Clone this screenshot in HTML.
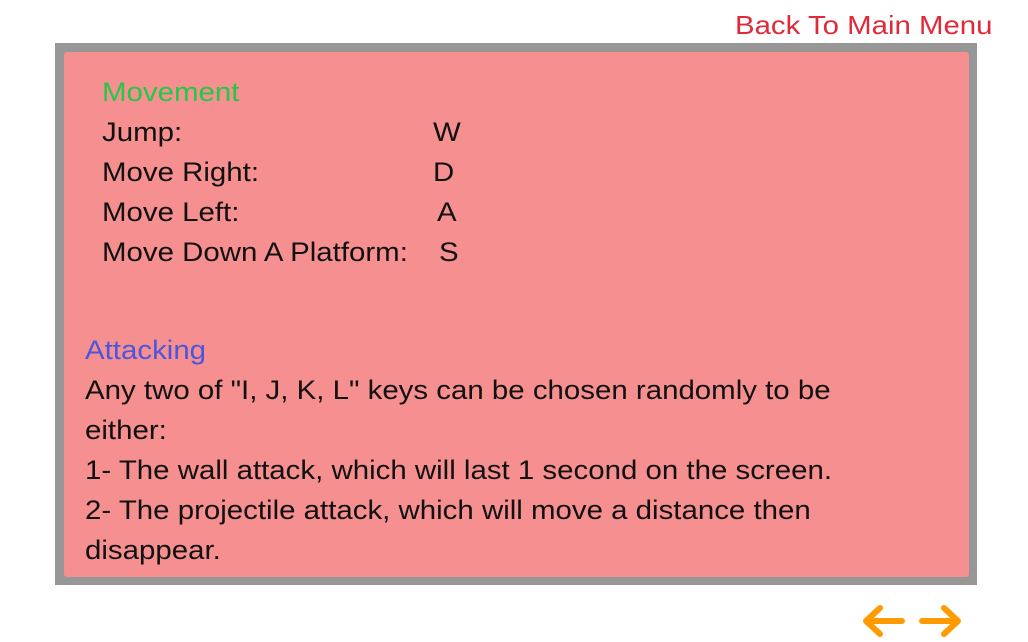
<!DOCTYPE html>
<html><head><style>
body{margin:0;width:1028px;height:642px;background:#fff;position:relative;font-family:"Liberation Sans",sans-serif;overflow:hidden}
.t{position:absolute;font-size:27px;line-height:40px;white-space:nowrap;color:#111;transform:scaleX(1.09);transform-origin:left center}
</style></head><body>
<div class="t" style="left:735px;top:5px;color:#e02a3a;font-size:26px;transform:scaleX(1.13)">Back To Main Menu</div>
<div style="position:absolute;left:55px;top:43px;width:922px;height:542px;background:#979797"></div>
<div style="position:absolute;left:64px;top:52px;width:905px;height:525px;background:#f68f8f;border-radius:3px"></div>
<div class="t" style="left:102px;top:72px;color:#22c84a">Movement</div>
<div class="t" style="left:102px;top:112px">Jump:</div><div class="t" style="left:433px;top:112px">W</div>
<div class="t" style="left:102px;top:152px">Move Right:</div><div class="t" style="left:433px;top:152px">D</div>
<div class="t" style="left:102px;top:192px">Move Left:</div><div class="t" style="left:437px;top:192px">A</div>
<div class="t" style="left:102px;top:232px">Move Down A Platform:</div><div class="t" style="left:439px;top:232px">S</div>
<div class="t" style="left:85px;top:330px;color:#4a55e0">Attacking</div>
<div class="t" style="left:85px;top:370px">Any two of "I, J, K, L" keys can be chosen randomly to be</div>
<div class="t" style="left:85px;top:410px">either:</div>
<div class="t" style="left:85px;top:450px">1- The wall attack, which will last 1 second on the screen.</div>
<div class="t" style="left:85px;top:490px">2- The projectile attack, which will move a distance then</div>
<div class="t" style="left:85px;top:530px">disappear.</div>
<svg style="position:absolute;left:855px;top:600px" width="115" height="40">
<g stroke="#ff9a00" stroke-width="6" stroke-linecap="round" fill="none" stroke-linejoin="round">
<path d="M47 21H12M25 8L11 21L25 34"/>
<path d="M67 21H102M89 8L103 21L89 34"/>
</g></svg>
</body></html>
